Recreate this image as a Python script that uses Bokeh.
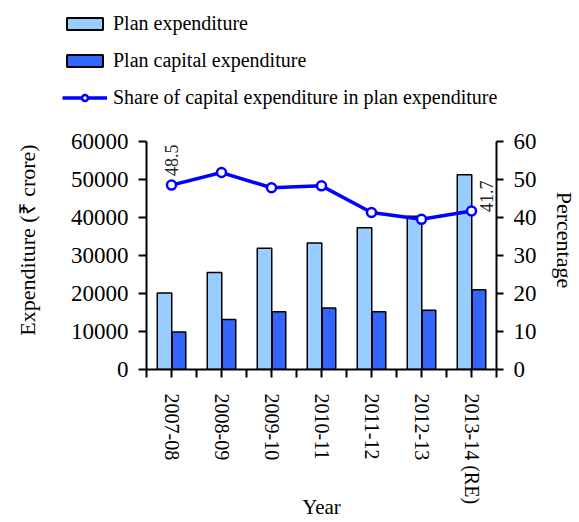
from math import pi
from bokeh.plotting import figure
from bokeh.layouts import column
from bokeh.models import (ColumnDataSource, Range1d, LinearAxis, FixedTicker,
                          Legend, LegendItem, LabelSet)
from bokeh.transform import dodge
from bokeh.embed import file_html
from bokeh.resources import INLINE

years = ["2007-08", "2008-09", "2009-10", "2010-11", "2011-12", "2012-13", "2013-14 (RE)"]
plan_exp = [20100, 25500, 31900, 33300, 37300, 40300, 51200]
plan_cap = [9850, 13150, 15200, 16150, 15200, 15600, 21000]
share = [48.5, 51.8, 47.8, 48.3, 41.3, 39.5, 41.7]
left_ticks = [0, 10000, 20000, 30000, 40000, 50000, 60000]
right_ticks = [0, 10, 20, 30, 40, 50, 60]
series_names = ["Plan expenditure", "Plan capital expenditure",
                "Share of capital expenditure in plan expenditure"]

SERIF = "Liberation Serif"
LIGHT, DARK, LINE = "#99CCFF", "#3366FF", "#0000FF"

# layout (pixels)
W, H = 579, 522
LEG_H = 110                      # height of the legend strip on top
FR_LEFT, FR_RIGHT, FR_BOTTOM = 146, 507, 370
AX_TOP = 141                     # page y of the top value tick
extra = (FR_BOTTOM - LEG_H) / (FR_BOTTOM - AX_TOP)

xc = [i + 0.5 for i in range(len(years))]
src = ColumnDataSource(dict(x=xc, plan=plan_exp, cap=plan_cap, share=share, year=years))

# ---------------- legend strip ----------------
lf = figure(width=W, height=LEG_H, x_range=Range1d(0, len(years)),
            y_range=Range1d(0, 60000), extra_y_ranges={"pct": Range1d(0, 60)},
            x_axis_location=None, y_axis_location=None,
            output_backend="svg", toolbar_location=None, min_border=0)
lf.frame_align = False
lf.outline_line_color = None
lf.xgrid.visible = False
lf.ygrid.visible = False
g1 = lf.vbar(x="x", top="plan", width=0.29, source=src, fill_color=LIGHT, line_color="black", line_width=2)
g2 = lf.vbar(x="x", top="cap", width=0.27, source=src, fill_color=DARK, line_color="black", line_width=2)
g3 = lf.line(x="x", y="share", source=src, y_range_name="pct", line_color=LINE, line_width=3.5)
g4 = lf.scatter(x="x", y="share", source=src, y_range_name="pct", size=9, marker="circle",
                fill_color="white", line_color=LINE, line_width=2.5)
for g in (g1, g2, g3, g4):
    g.visible = False            # only used as legend swatches
legend = Legend(items=[
    LegendItem(label=series_names[0], renderers=[g1]),
    LegendItem(label=series_names[1], renderers=[g2]),
    LegendItem(label=series_names[2], renderers=[g3, g4]),
], location=(62, 1), orientation="vertical")
legend.glyph_width = 45
legend.glyph_height = 15
legend.label_height = 20
legend.spacing = 14
legend.label_standoff = 6
legend.padding = 0
legend.margin = 0
legend.border_line_color = None
legend.background_fill_alpha = 0
legend.inactive_fill_alpha = 0
legend.label_text_font = SERIF
legend.label_text_font_size = "20px"
legend.label_text_color = "black"
lf.add_layout(legend, "center")

# ---------------- main chart ----------------
p = figure(width=W, height=H - LEG_H, x_range=Range1d(0, len(years)),
           y_range=Range1d(0, left_ticks[-1] * extra),
           output_backend="svg", toolbar_location=None,
           min_border_left=FR_LEFT, min_border_right=W - FR_RIGHT,
           min_border_top=0, min_border_bottom=H - FR_BOTTOM)
p.frame_align = False
p.outline_line_color = None
p.xgrid.visible = False
p.ygrid.visible = False
p.extra_y_ranges = {"pct": Range1d(0, right_ticks[-1] * extra)}

p.vbar(x=dodge("x", -0.14, range=p.x_range), top="plan", width=0.29, source=src,
       fill_color=LIGHT, line_color="black", line_width=1.5)
p.vbar(x=dodge("x", 0.15, range=p.x_range), top="cap", width=0.27, source=src,
       fill_color=DARK, line_color="black", line_width=1.5)
p.line(x="x", y="share", source=src, y_range_name="pct", line_color=LINE, line_width=3.5)
p.scatter(x="x", y="share", source=src, y_range_name="pct", size=9, marker="circle",
          fill_color="white", line_color=LINE, line_width=2.5)

lab_src = ColumnDataSource(dict(
    x=[xc[0], xc[-1]], y=[share[0], share[-1]],
    text=[f"{share[0]:.1f}", f"{share[-1]:.1f}"],
    xo=[0, 15], yo=[9, -1]))
labels = LabelSet(x="x", y="y", text="text", source=lab_src, y_range_name="pct",
                  x_offset="xo", y_offset="yo", angle=pi / 2,
                  text_align="left", text_baseline="middle",
                  text_font="Liberation Sans", text_font_size="18px", text_color="#222222")
p.add_layout(labels)

xa = p.xaxis[0]
xa.ticker = FixedTicker(ticks=xc, minor_ticks=list(range(len(years) + 1)))
xa.major_label_overrides = {v: y for v, y in zip(xc, years)}
xa.major_label_orientation = "vertical"
xa.axis_label = "Year"
xa.axis_label_standoff = -12

ya = p.yaxis[0]
ya.ticker = FixedTicker(ticks=left_ticks)
ya.bounds = (left_ticks[0], left_ticks[-1])
ya.axis_label = "Expenditure (₹ crore)"
ya.axis_label_standoff = 28

ra = LinearAxis(y_range_name="pct", ticker=FixedTicker(ticks=right_ticks), axis_label="Percentage",
                bounds=(right_ticks[0], right_ticks[-1]))
ra.axis_label_standoff = 12
p.add_layout(ra, "right")

for ax in [xa, ya, ra]:
    ax.axis_line_color = "black"
    ax.axis_line_width = 2
    ax.major_tick_line_color = "black"
    ax.major_tick_line_width = 2
    ax.minor_tick_line_color = "black"
    ax.minor_tick_line_width = 2
    ax.major_tick_in = 0
    ax.major_tick_out = 8
    ax.minor_tick_in = 0
    ax.major_label_text_font = SERIF
    ax.major_label_text_color = "black"
    ax.axis_label_text_font = SERIF
    ax.axis_label_text_font_style = "normal"
    ax.axis_label_text_color = "black"

xa.minor_tick_out = 8
ya.minor_tick_out = 0
ra.minor_tick_out = 0
ra.major_tick_out = 7
xa.major_label_text_font_size = "20px"
xa.major_label_standoff = 16
xa.axis_label_text_font_size = "21px"
ya.major_label_text_font_size = "23px"
ya.major_label_standoff = 10
ya.axis_label_text_font_size = "22px"
ra.major_label_text_font_size = "23px"
ra.major_label_standoff = 10
ra.axis_label_text_font_size = "22px"

layout = column(lf, p, spacing=0)
open("out.html", "w").write(file_html(layout, INLINE))
